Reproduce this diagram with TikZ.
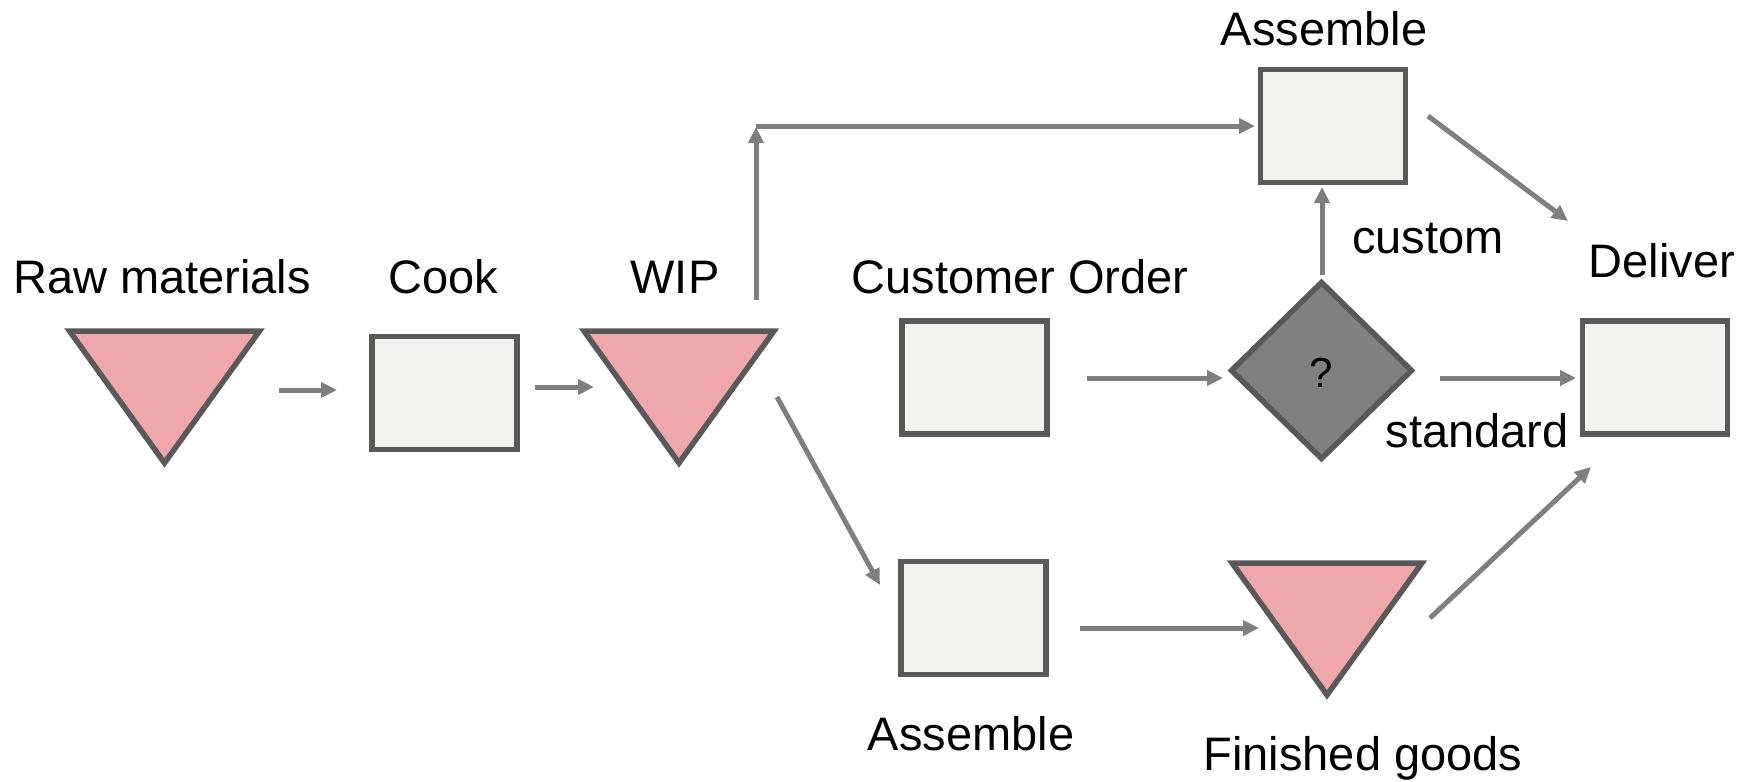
\documentclass[tikz,border=0pt]{standalone}
\usepackage{fontspec}
\setmainfont{Liberation Sans}
\usetikzlibrary{arrows.meta,shapes.geometric}
\definecolor{bordergray}{HTML}{595959}
\definecolor{boxfill}{HTML}{F2F3EE}
\definecolor{pinkfill}{HTML}{EEA7AA}
\definecolor{decfill}{HTML}{808080}
\definecolor{arrgray}{HTML}{7F7F7F}
\tikzset{
  stepbox/.style={draw=bordergray, fill=boxfill, line width=5.5pt, minimum width=145pt, minimum height=113pt, inner sep=0pt, outer sep=0pt},
  trinode/.style={minimum width=190pt, minimum height=132pt, inner sep=0pt, outer sep=0pt},
  tri/.style={draw=bordergray, fill=pinkfill, line width=5.5pt},
  decision/.style={diamond, draw=bordergray, fill=decfill, line width=5.5pt, minimum width=180pt, minimum height=176pt, inner sep=0pt, outer sep=0pt},
  lbl/.style={anchor=base, inner sep=0pt, font=\fontsize{47}{56}\selectfont},
  arr/.style={draw=arrgray, line width=5pt, -{Triangle[length=16pt,width=15pt]}}
}
\begin{document}
\begin{tikzpicture}[x=1pt,y=-1pt]
\useasboundingbox (0,0) rectangle (1757,782);
% nodes
\node[trinode] (raw) at (164.5,397) {};
\draw[tri] (raw.north west) -- (raw.north east) -- (raw.south) -- cycle;
\node[stepbox] (cook) at (444.5,393) {};
\node[trinode] (wip) at (679,397) {};
\draw[tri] (wip.north west) -- (wip.north east) -- (wip.south) -- cycle;
\node[stepbox] (co) at (974.5,377.5) {};
\node[decision] (dec) at (1321.5,370.5) {};
\node[lbl, font=\fontsize{42}{50}\selectfont] (qmark) at (1321.5,387) {?};
\node[stepbox] (asmT) at (1333,126) {};
\node[stepbox] (deliver) at (1655,377.5) {};
\node[stepbox] (asmB) at (973.5,618) {};
\node[trinode] (fg) at (1327,629) {};
\draw[tri] (fg.north west) -- (fg.north east) -- (fg.south) -- cycle;
\coordinate (corner) at (756,126);
% labels
\node[lbl] (lraw) at (162,293) {Raw materials};
\node[lbl] (lcook) at (443,293) {Cook};
\node[lbl] (lwip) at (675,293) {WIP};
\node[lbl] (lco) at (1020,293) {Customer Order};
\node[lbl] (lasmT) at (1324,45) {Assemble};
\node[lbl] (lcustom) at (1428,253) {custom};
\node[lbl] (ldeliver) at (1662,277) {Deliver};
\node[lbl] (lstandard) at (1477,447) {standard};
\node[lbl] (lasmB) at (971,750) {Assemble};
\node[lbl] (lfg) at (1363,770) {Finished goods};
% connectors (end points given relative to the named nodes)
\draw[arr] ([shift={(19.5,-7)}]raw.east) -- ([shift={(-35,-3)}]cook.west);
\draw[arr] ([shift={(18,-6)}]cook.east) -- ([shift={(10,-10)}]wip.west);
\draw[arr] ([shift={(77,-31)}]wip.north) -- ([shift={(0,1)}]corner);
\draw[arr] (corner) -- ([shift={(-5.5,0)}]asmT.west);
\draw[arr] ([shift={(3,0)}]wip.east) -- ([shift={(-21,-33)}]asmB.west);
\draw[arr] ([shift={(40,0.5)}]co.east) -- ([shift={(-8.5,7.5)}]dec.west);
\draw[arr] ([shift={(0.5,-7.5)}]dec.north) -- ([shift={(-11,4.5)}]asmT.south);
\draw[arr] ([shift={(28.5,7.5)}]dec.east) -- ([shift={(-6.5,0.5)}]deliver.west);
\draw[arr] ([shift={(22.5,-10)}]asmT.east) -- ([shift={(-87,-100)}]deliver.north);
\draw[arr] ([shift={(34,10)}]asmB.east) -- ([shift={(27,-1)}]fg.west);
\draw[arr] ([shift={(8,-11)}]fg.east) -- ([shift={(-64,33)}]deliver.south);
\end{tikzpicture}
\end{document}
